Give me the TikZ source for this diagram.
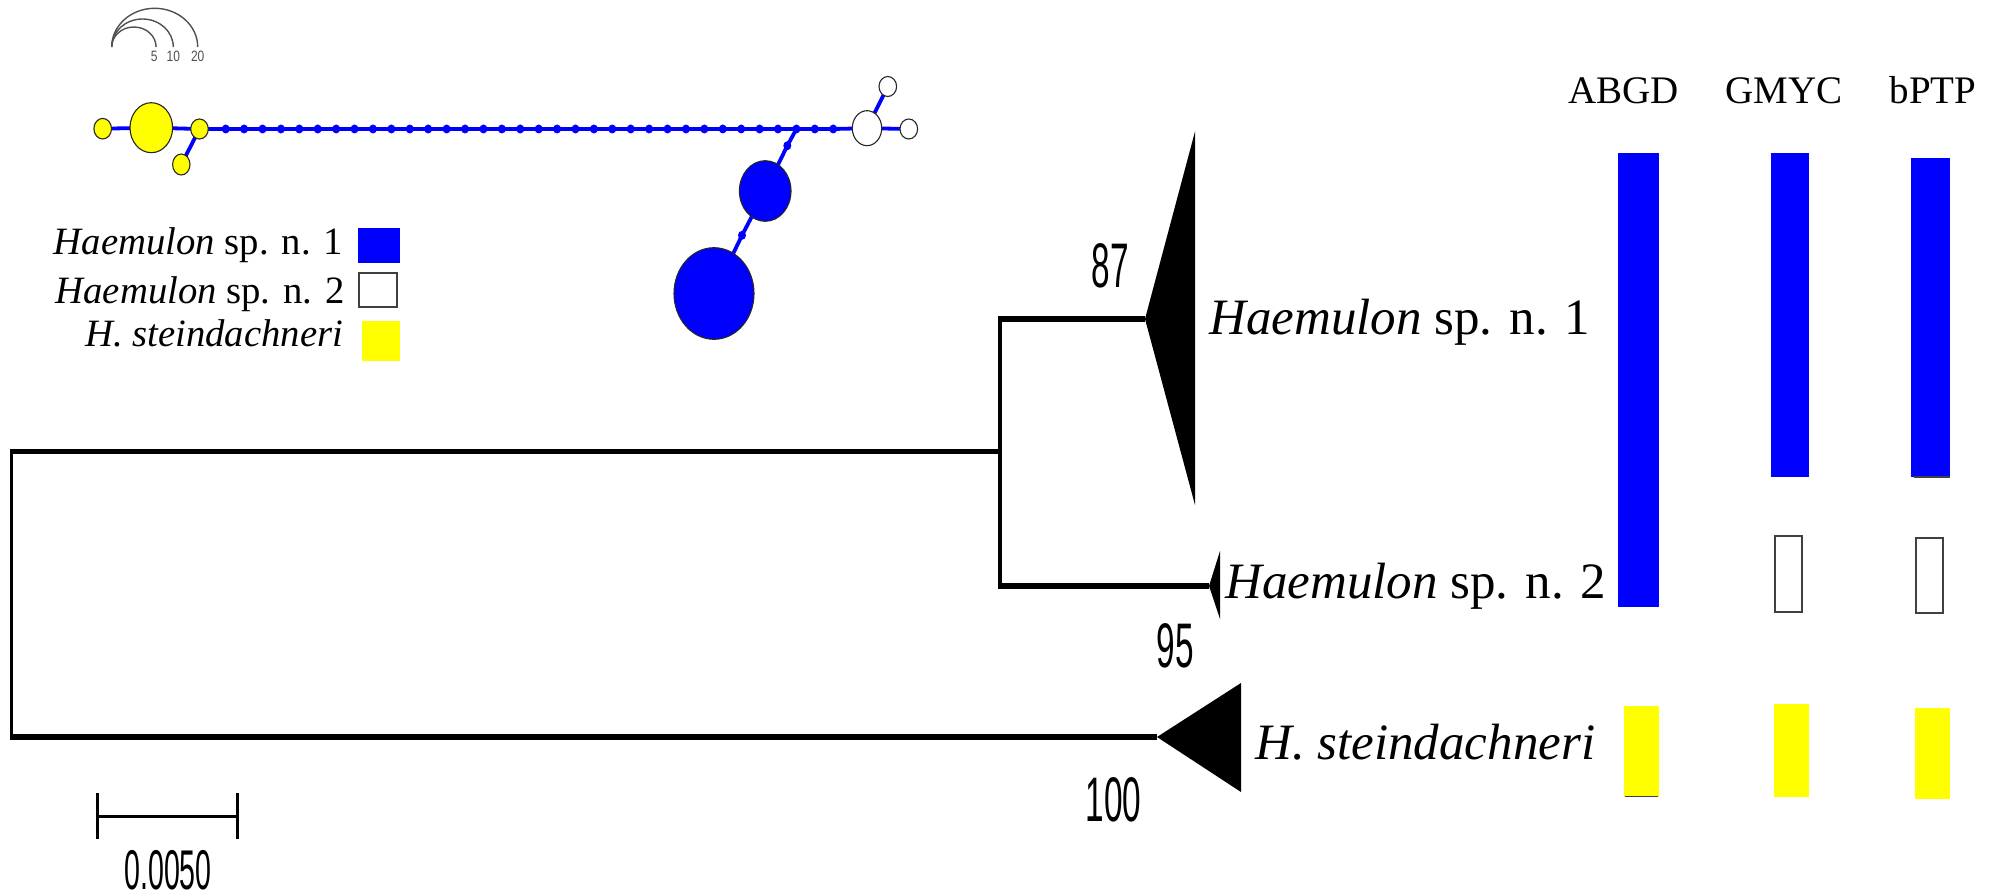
\documentclass[tikz,border=0pt]{standalone}
\usepackage{fontspec}
\setmainfont{Liberation Serif}
\newfontfamily\narrowsans{Liberation Sans}
\usetikzlibrary{shapes.geometric,backgrounds}
\definecolor{hblue}{RGB}{0,0,255}
\definecolor{hyellow}{RGB}{255,255,0}
\definecolor{arcgray}{RGB}{80,80,80}
\tikzset{
  hap/.style 2 args={ellipse, draw=black!85, line width=1.1pt, inner sep=0pt,
    minimum width=#1pt, minimum height=#2pt},
  hdot/.style={ellipse, fill=hblue, draw=none, inner sep=0pt,
    minimum width=8pt, minimum height=9pt},
  netedge/.style={draw=hblue, line width=3.8pt},
  hbranch/.style={line width=5.5pt},
  vbranch/.style={line width=3.5pt},
  clade/.style={fill=black, draw=none},
  support/.style={inner sep=0pt, font=\narrowsans\fontsize{63}{63}\selectfont},
  taxon/.style={inner sep=0pt, anchor=base west, font=\fontsize{51}{51}\selectfont},
  legtext/.style={inner sep=0pt, anchor=base east, font=\fontsize{38.7}{40}\selectfont},
  method/.style={inner sep=0pt, anchor=base, font=\fontsize{39}{40}\selectfont},
  scalelab/.style={inner sep=0pt, text=arcgray, font=\narrowsans\fontsize{15}{15}\selectfont},
  openbox/.style={fill=white, draw=black!75, line width=2pt},
}
\begin{document}
\begin{tikzpicture}[x=1pt,y=-1pt]
\useasboundingbox (0,0) rectangle (2002,896);
\begin{scope}[on background layer]
\fill[white] (0,0) rectangle (2002,896);
\end{scope}

% ---------- haplotype size scale ----------
\draw[arcgray, line width=1.4pt] (111.7,47) arc[start angle=180,end angle=0,x radius=22.2pt,y radius=20pt];
\draw[arcgray, line width=1.4pt] (111.7,47) arc[start angle=180,end angle=0,x radius=30.8pt,y radius=28pt];
\draw[arcgray, line width=1.4pt] (111.7,47) arc[start angle=180,end angle=0,x radius=43pt,y radius=38.7pt];
\node[scalelab] (s5) at (154.3,56.7) {\scalebox{0.8}[1]{5}};
\node[scalelab] (s10) at (173.3,56.7) {\scalebox{0.8}[1]{10}};
\node[scalelab] (s20) at (197.7,56.7) {\scalebox{0.8}[1]{20}};

% ---------- haplotype network ----------
\node[hap={17.6}{20.6}, fill=hyellow] (y1) at (102.7,128.7) {};
\node[hap={42.6}{50}, fill=hyellow] (Y) at (151.3,127.7) {};
\node[hap={17.6}{20}, fill=hyellow] (y2) at (199.5,129) {};
\node[hap={17.4}{21}, fill=hyellow] (y3) at (181.3,164.5) {};
\foreach \i in {0,...,33} \node[hdot] (d\i) at ({225.7+18.41*\i},129) {};
\node[hap={29.4}{35}, fill=white] (W) at (867,128.2) {};
\node[hap={17.6}{20}, fill=white] (w1) at (908.8,129) {};
\node[hap={17.6}{20}, fill=white] (w2) at (887.8,86.5) {};
\node[hdot] (b1) at (787.3,145.7) {};
\node[hap={51.6}{60.6}, fill=hblue] (B1) at (765.2,191) {};
\node[hdot] (b2) at (742,235.3) {};
\node[hap={80}{91.6}, fill=hblue] (B2) at (714,293.5) {};
\begin{scope}[on background layer]
\draw[netedge] (y1.center) -- (Y.center) -- (y2.center) -- (d0.center)
  \foreach \i in {1,...,33}{ -- (d\i.center)} -- (W.center) -- (w1.center);
\draw[netedge] (y2.center) -- (y3.center);
\draw[netedge] (W.center) -- (w2.center);
\draw[netedge] (d31.center) -- (b1.center) -- (B1.center) -- (b2.center) -- (B2.center);
\end{scope}

% ---------- legend ----------
\node[legtext] (L1) at (343.3,254) {\textit{Haemulon} sp. n. 1};
\node[legtext] (L2) at (345,303.3) {\textit{Haemulon} sp. n. 2};
\node[legtext] (L3) at (343.3,346.7) {\textit{H. steindachneri}};
\fill[hblue] (358.3,228.3) rectangle (400,263.3);
\draw[openbox] (359.3,273.3) rectangle (397.3,306.7);
\fill[hyellow] (362,321) rectangle (400,361);

% ---------- tree ----------
\coordinate (root) at (11.5,451.5);
\coordinate (rootb) at (11.5,737);
\coordinate (inn) at (1000,451.5);
\coordinate (inntop) at (1000,319);
\coordinate (innbot) at (1000,586);
\coordinate (c1tip) at (1145,319);
\coordinate (c2tip) at (1209,586);
\coordinate (c3tip) at (1157,737);
\draw[vbranch] ([yshift=2.75pt]root) -- ([yshift=-2.75pt]rootb);
\draw[vbranch] ([yshift=2.75pt]inntop) -- ([yshift=-2.75pt]innbot);
\draw[hbranch] (root) -- (inn);
\draw[hbranch] (rootb) -- (c3tip);
\draw[hbranch] (inntop) -- (c1tip);
\draw[hbranch] (innbot) -- (c2tip);
\fill[clade] (c1tip) -- (1195,131.5) -- (1195,505) -- cycle;
\fill[clade] (c2tip) -- (1220,551) -- (1220,619) -- cycle;
\fill[clade] (c3tip) -- (1241,683) -- (1241,792) -- cycle;

\node[support] (n87) at (1110,266) {\scalebox{0.53}[1]{87}};
\node[support] (n95) at (1175,646) {\scalebox{0.53}[1]{95}};
\node[support] (n100) at (1113.5,800) {\scalebox{0.53}[1]{100}};

\node[taxon] (t1) at (1209,334.3) {\textit{Haemulon} sp. n. 1};
\node[taxon] (t2) at (1225,598) {\textit{Haemulon} sp. n. 2};
\node[taxon] (t3) at (1255,759.3) {\textit{H. steindachneri}};

% ---------- scale bar ----------
\coordinate (sbL) at (97.3,816.7);
\coordinate (sbR) at (237.3,816.7);
\draw[line width=3.3pt] (sbL) -- (sbR);
\draw[line width=2.6pt] (97.3,793.3) -- (97.3,839);
\draw[line width=2.6pt] (237.3,793.3) -- (237.3,839);
\node[inner sep=0pt, font=\narrowsans\fontsize{56}{56}\selectfont] (sblab) at (168,870.5) {\scalebox{0.51}[1]{0.0050}};

% ---------- species delimitation ----------
\node[method] (mA) at (1623.3,104) {ABGD};
\node[method] (mG) at (1784,103.5) {GMYC};
\node[method] (mP) at (1933,104) {bPTP};
\fill[hblue] (1618.3,153.3) rectangle (1659,607.3);
\fill[hblue] (1770.7,153.3) rectangle (1809.3,476.7);
\fill[hblue] (1911.3,157.7) rectangle (1950,476.7);
\draw[black!75, line width=1.5pt] (1914,477) -- (1950,477);
\draw[openbox] (1775,536) rectangle (1802.3,611.7);
\draw[openbox] (1916,537.7) rectangle (1943,613.3);
\fill[hyellow] (1624,705.7) rectangle (1659,796.7);
\draw[black!75, line width=1.5pt] (1625,796.7) -- (1658,796.7);
\fill[hyellow] (1774,704) rectangle (1809.3,797.3);
\fill[hyellow] (1915,707.7) rectangle (1950,799.3);
\end{tikzpicture}
\end{document}
